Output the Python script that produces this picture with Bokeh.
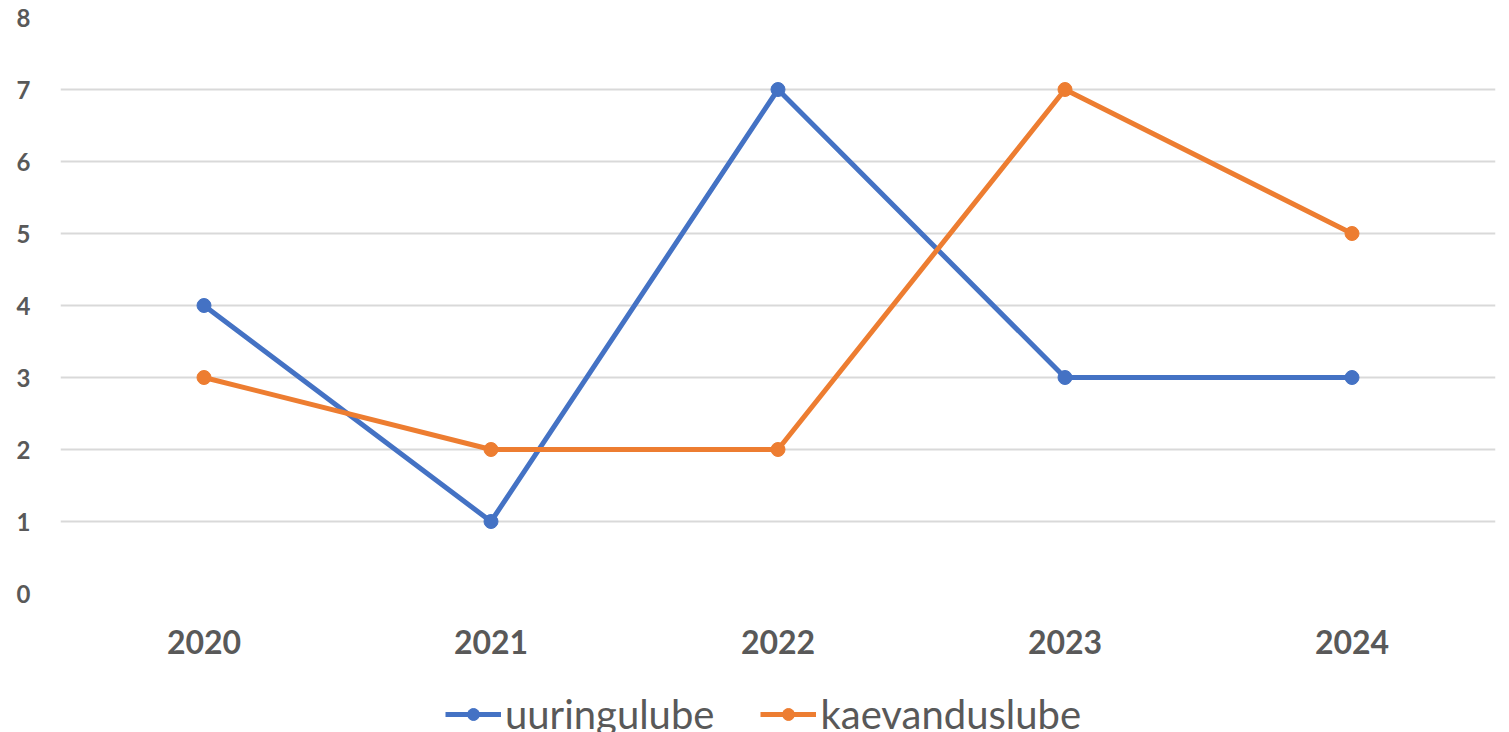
from bokeh.plotting import figure
from bokeh.layouts import column
from bokeh.models import FactorRange, Range1d, Legend, LegendItem, SingleIntervalTicker
from bokeh.embed import file_html
from bokeh.resources import INLINE

years = ["2020", "2021", "2022", "2023", "2024"]
uuringulube = [4, 1, 7, 3, 3]
kaevanduslube = [3, 2, 2, 7, 5]
series_names = ["uuringulube", "kaevanduslube"]

FONT = "Lato"
GRAY = "#595959"
c1 = "#4472C4"
c2 = "#ED7D31"

p = figure(frame_width=1435, frame_height=576, output_backend="svg", toolbar_location=None,
           x_range=FactorRange(*years, range_padding=0), y_range=Range1d(0, 8),
           min_border_left=60, min_border_right=14, min_border_top=17, min_border_bottom=97)
p.outline_line_color = None
p.background_fill_color = "white"

p.xgrid.grid_line_color = None
p.ygrid.grid_line_color = "#D9D9D9"
p.ygrid.grid_line_width = 2
p.yaxis.ticker = SingleIntervalTicker(interval=1)

for ax in (p.xaxis[0], p.yaxis[0]):
    ax.axis_line_color = None
    ax.major_tick_line_color = None
    ax.minor_tick_line_color = None
    ax.major_label_text_font = FONT
    ax.major_label_text_font_style = "bold"
    ax.major_label_text_color = GRAY
p.yaxis.major_label_text_font_size = "24px"
p.yaxis.major_label_standoff = 24
p.xaxis.major_label_text_font_size = "32px"
p.xaxis.major_label_standoff = 30

p.line(years, uuringulube, line_color=c1, line_width=5)
p.scatter(years, uuringulube, size=14, fill_color=c1, line_color=c1)
p.line(years, kaevanduslube, line_color=c2, line_width=5)
p.scatter(years, kaevanduslube, size=14, fill_color=c2, line_color=c2)

# legend strip below the chart (series drawn out of view so only the legend shows)
lf = figure(width=1509, height=48, output_backend="svg", toolbar_location=None,
            x_range=FactorRange(*years, range_padding=0), y_range=Range1d(100, 101),
            min_border=0)
lf.axis.visible = False
lf.grid.visible = False
lf.outline_line_color = None
items = []
for name, col, vals in zip(series_names, [c1, c2], [uuringulube, kaevanduslube]):
    rl = lf.line(years, vals, line_color=col, line_width=5)
    rs = lf.scatter(years, vals, size=14, fill_color=col, line_color=col)
    items.append(LegendItem(label=name, renderers=[rl, rs]))

legend = Legend(items=items, orientation="horizontal", location=(385, 0),
                label_text_font=FONT, label_text_font_size="40px",
                label_text_color=GRAY, glyph_width=56, glyph_height=30,
                label_standoff=4, spacing=46, padding=0, margin=0,
                border_line_color=None, background_fill_alpha=0)
lf.add_layout(legend, "center")

layout = column(p, lf, spacing=0)
open("out.html", "w").write(file_html(layout, INLINE))
